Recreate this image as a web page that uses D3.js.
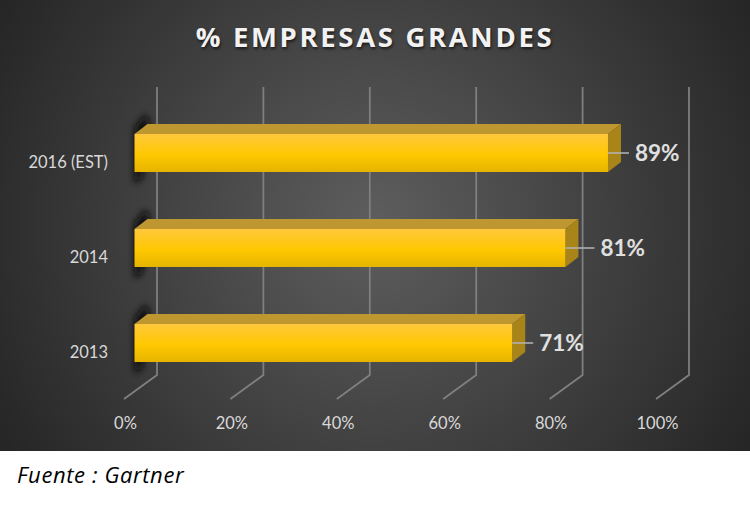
<!DOCTYPE html>
<html>
<head>
<meta charset="utf-8">
<script src="https://d3js.org/d3.v7.min.js"></script>
<style>
html, body { margin: 0; padding: 0; background: #fff; }
svg { display: block; }
</style>
</head>
<body>
<div id="chart"></div>
<script>
var categories = ["2016 (EST)", "2014", "2013"];
var values = [89, 81, 71];
var tickValues = [0, 20, 40, 60, 80, 100];

var width = 750, height = 505, panelHeight = 451;

var svg = d3.select("#chart").append("svg")
    .attr("width", width)
    .attr("height", height);

var defs = svg.append("defs");

var bg = defs.append("radialGradient").attr("id", "bg")
    .attr("gradientUnits", "userSpaceOnUse")
    .attr("cx", 375).attr("cy", 225).attr("r", 430);
bg.append("stop").attr("offset", "0%").attr("stop-color", "#5e5e5e");
bg.append("stop").attr("offset", "100%").attr("stop-color", "#262626");

var front = defs.append("linearGradient").attr("id", "front")
    .attr("x1", 0).attr("y1", 0).attr("x2", 0).attr("y2", 1);
front.append("stop").attr("offset", "0%").attr("stop-color", "#ffc83c");
front.append("stop").attr("offset", "55%").attr("stop-color", "#ffc800");
front.append("stop").attr("offset", "100%").attr("stop-color", "#e5b400");

defs.append("filter").attr("id", "blur")
    .attr("x", "-100%").attr("y", "-50%").attr("width", "300%").attr("height", "200%")
    .append("feGaussianBlur").attr("stdDeviation", 3.5);

//Background panel
svg.append("rect")
    .attr("width", width)
    .attr("height", panelHeight)
    .attr("fill", "url(#bg)");

//Scales
var x = d3.scaleLinear().domain([0, 100]).range([134.5, 666.5]);
var y = d3.scaleBand().domain(categories).range([105.5, 390.5]).paddingInner(0.6).paddingOuter(0.3);

// offsets of the fake 3D box
var depthX = 13, depthY = 10;
// the floor runs from the front tick to the back wall
var floorFront = -10.5, floorBack = 22.5;

//Gridlines
var gridGroup = svg.append("g");
gridGroup.selectAll("path")
    .data(tickValues)
    .enter().append("path")
    .attr("d", function (d) {
        return "M" + (x(d) + floorBack) + ",87V375L" + (x(d) + floorFront) + ",399";
    })
    .attr("fill", "none")
    .attr("stroke", "#808080")
    .attr("stroke-width", 1.75);

//Axis tick labels
var xAxis = d3.axisBottom(x)
    .tickValues(tickValues)
    .tickFormat(function (d) { return d + "%"; })
    .tickSize(0);
var axisGroup = svg.append("g")
    .attr("transform", "translate(-9.5,414)")
    .call(xAxis);
axisGroup.select(".domain").remove();
axisGroup.selectAll("text")
    .attr("fill", "#d9d9d9")
    .style("font-size", "16.5px")
    .style("font-family", "Lato");

//Category labels
var yAxis = d3.axisLeft(y).tickSize(0);
var yGroup = svg.append("g")
    .attr("transform", "translate(111,9.5)")
    .call(yAxis);
yGroup.select(".domain").remove();
yGroup.selectAll("text")
    .attr("fill", "#d9d9d9")
    .style("font-size", "16.5px")
    .style("font-family", "Lato");

//Bars
var bars = svg.selectAll("g.bar")
    .data(categories)
    .enter().append("g")
    .attr("class", "bar");

function barTop(d) { return y(d); }
function barEnd(d, i) { return x(values[i]); }
// the 2014 label was dragged a bit further out
function leader(d) { return d === "2014" ? 29 : 21; }

// dark smudge left of each bar, slanted with the depth of the box
bars.append("path")
    .attr("d", function (d) {
        var x0 = x(0) + 4, t = barTop(d);
        return "M" + (x0 + 7) + "," + (t - 20) + "L" + (x0 + 11) + "," + (t - 12) +
            "L" + (x0 + 4) + "," + (t + y.bandwidth() + 6) + "L" + (x0 - 4) + "," + (t + y.bandwidth() + 12) +
            "L" + (x0 - 4) + "," + (t - 6) + "Z";
    })
    .attr("fill", "#0c0c0c")
    .attr("filter", "url(#blur)");

// top face
bars.append("path")
    .attr("d", function (d, i) {
        var x0 = x(0), x1 = barEnd(d, i), t = barTop(d);
        return "M" + x0 + "," + t + "L" + (x0 + depthX) + "," + (t - depthY) +
            "H" + (x1 + depthX) + "L" + x1 + "," + t + "Z";
    })
    .attr("fill", "#bf9730");

// side face
bars.append("path")
    .attr("d", function (d, i) {
        var x1 = barEnd(d, i), t = barTop(d), h = y.bandwidth();
        return "M" + x1 + "," + t + "L" + (x1 + depthX) + "," + (t - depthY) +
            "V" + (t + h - depthY) + "L" + x1 + "," + (t + h) + "Z";
    })
    .attr("fill", "#a98519");

// front face
bars.append("rect")
    .attr("x", x(0))
    .attr("y", barTop)
    .attr("width", function (d, i) { return barEnd(d, i) - x(0); })
    .attr("height", y.bandwidth())
    .attr("fill", "url(#front)");

// leader line and value
bars.append("line")
    .attr("x1", barEnd)
    .attr("x2", function (d, i) { return barEnd(d, i) + leader(d); })
    .attr("y1", function (d) { return barTop(d) + y.bandwidth() / 2; })
    .attr("y2", function (d) { return barTop(d) + y.bandwidth() / 2; })
    .attr("stroke", "#b5b5b5")
    .attr("stroke-width", 1.5);

bars.append("text")
    .attr("x", function (d, i) { return barEnd(d, i) + leader(d) + 6; })
    .attr("y", function (d) { return barTop(d) + y.bandwidth() / 2 + 8; })
    .attr("fill", "#e0e0e0")
    .style("font-size", "22.5px")
    .style("font-weight", 700)
    .style("font-family", "Lato")
    .text(function (d, i) { return values[i] + "%"; });

//Title
svg.append("text")
    .attr("x", 375)
    .attr("y", 47)
    .attr("text-anchor", "middle")
    .attr("fill", "#f2f2f2")
    .style("font-family", "Open Sans")
    .style("font-size", "27.5px")
    .style("font-weight", 700)
    .style("letter-spacing", "2.65px")
    .style("text-shadow", "1px 2px 3px rgba(0,0,0,0.6)")
    .text("% EMPRESAS GRANDES");

//Source
svg.append("text")
    .attr("x", 17)
    .attr("y", 483)
    .attr("fill", "#000")
    .style("font-family", "Open Sans")
    .style("font-size", "22px")
    .style("font-style", "italic")
    .style("letter-spacing", "0.6px")
    .text("Fuente : Gartner");
</script>
</body>
</html>
